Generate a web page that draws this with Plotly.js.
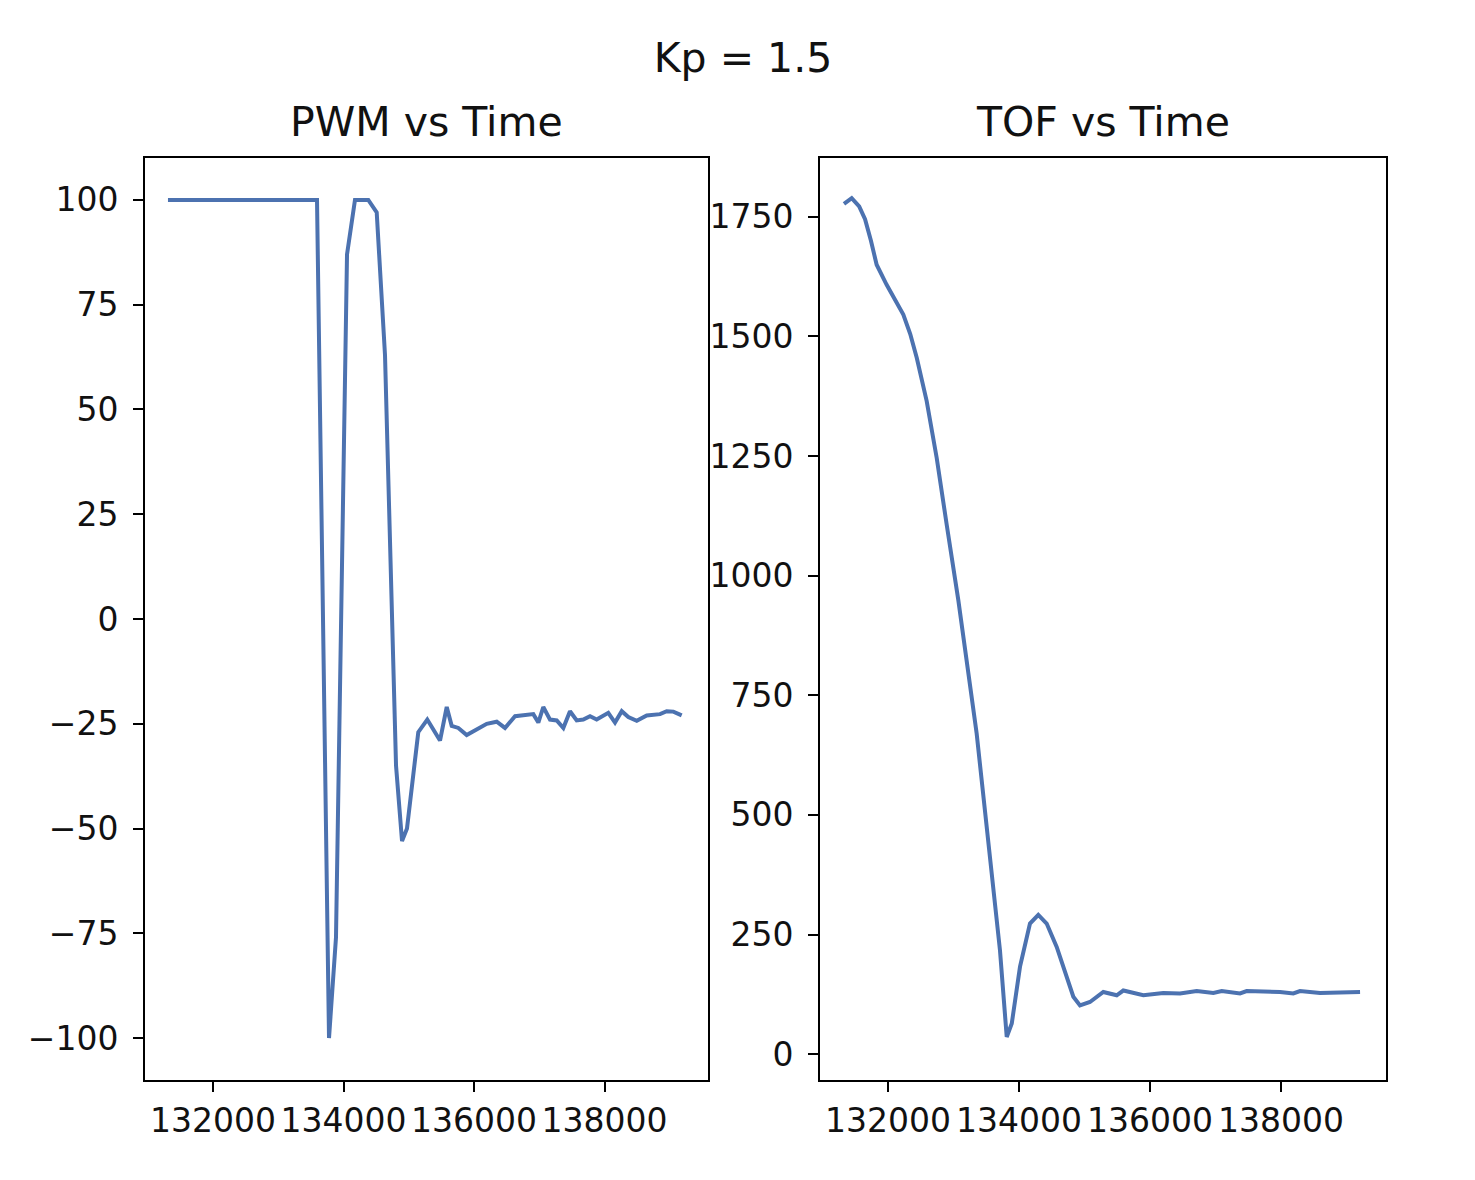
<!DOCTYPE html>
<html>
<head>
<meta charset="utf-8">
<script src="https://cdn.plot.ly/plotly-3.0.1.min.js"></script>
<style>
  html, body { margin: 0; padding: 0; background: #fff; }
  #kp-plot { width: 1475px; height: 1180px; }
</style>
</head>
<body>
<div id="kp-plot"></div>
<script>
// PWM command over time (ms)
const pwmTime = [
  131310, 133594, 133778, 133885, 134054, 134176, 134380, 134509, 134636, 134805,
  134897, 134973, 135146, 135284, 135479, 135582, 135658, 135760, 135888, 136041,
  136195, 136348, 136475, 136629, 136909, 136986, 137062, 137165, 137268, 137369,
  137471, 137574, 137675, 137778, 137880, 138058, 138161, 138264, 138365, 138494,
  138647, 138851, 138953, 139055, 139183
];
const pwmValues = [
  100, 100, -100, -76, 87, 100, 100, 97, 63, -35,
  -53, -50, -27, -24, -29, -21, -25.5, -26, -27.7, -26.3,
  -25, -24.5, -26, -23.2, -22.7, -24.7, -21, -24, -24.2, -26,
  -22, -24.2, -24, -23.2, -24, -22.4, -24.7, -22, -23.4, -24.3,
  -23, -22.7, -22, -22.1, -23
];

// TOF distance reading over time (mm)
const tofTime = [
  131328, 131446, 131560, 131650, 131740, 131827, 131980, 132110, 132234, 132340,
  132440, 132591, 132744, 132896, 133074, 133354, 133558, 133710, 133813, 133890,
  134016, 134168, 134295, 134423, 134576, 134830, 134932, 135084, 135288, 135492,
  135593, 135899, 136204, 136459, 136714, 136968, 137096, 137375, 137477, 137986,
  138189, 138291, 138597, 139208
];
const tofValues = [
  1777, 1789, 1772, 1745, 1700, 1650, 1608, 1578, 1546, 1505,
  1455, 1365, 1246, 1107, 949, 670, 420, 217, 36, 64,
  183, 273, 291, 273, 224, 120, 102, 109, 130, 123,
  133, 123, 128, 127, 132, 128, 132, 127, 132, 130,
  127, 132, 128, 130
];

// tick labels
const timeTicks = [132000, 134000, 136000, 138000];
const timeTickText = ["132000", "134000", "136000", "138000"];
const pwmTicks = [-100, -75, -50, -25, 0, 25, 50, 75, 100];
const pwmTickText = ["\u2212100", "\u221275", "\u221250", "\u221225", "0", "25", "50", "75", "100"];
const tofTicks = [0, 250, 500, 750, 1000, 1250, 1500, 1750];
const tofTickText = ["0", "250", "500", "750", "1000", "1250", "1500", "1750"];

const LINE_BLUE = "#4c72b0";
const FONT = "DejaVu Sans, sans-serif";
const TEXT = "#111";
const W = 1475, H = 1180;

function getElem(id) {
  return document.getElementById(id);
}

function axisStyle(extra) {
  const base = {
    showline: true,
    mirror: true,
    linecolor: "#000",
    linewidth: 2,
    ticks: "outside",
    ticklen: 10,
    tickwidth: 2,
    tickcolor: "#000",
    showgrid: false,
    zeroline: false,
    tickmode: "array",
    tickangle: 0,
    tickfont: { family: FONT, size: 33, color: TEXT }
  };
  return Object.assign(base, extra);
}

function drawPlot() {
  const plotDiv = getElem("kp-plot");
  if (!plotDiv) return;

  const traces = [
    {
      x: pwmTime,
      y: pwmValues,
      mode: "lines",
      line: { color: LINE_BLUE, width: 4 },
      showlegend: false,
      xaxis: "x",
      yaxis: "y"
    },
    {
      x: tofTime,
      y: tofValues,
      mode: "lines",
      line: { color: LINE_BLUE, width: 4 },
      showlegend: false,
      xaxis: "x2",
      yaxis: "y2"
    }
  ];

  // plot boxes measured in pixels, converted to paper fractions
  const yDom = [(H - 1080) / H, (H - 158) / H];

  const layout = {
    width: W,
    height: H,
    margin: { l: 0, r: 0, t: 0, b: 0 },
    paper_bgcolor: "#fff",
    plot_bgcolor: "#fff",
    title: {
      text: "Kp = 1.5",
      x: 743 / W,
      xanchor: "center",
      y: 1 - 58 / H,
      yanchor: "middle",
      font: { family: FONT, size: 41, color: TEXT }
    },
    xaxis: axisStyle({
      domain: [145 / W, 708 / W],
      range: [130958, 139586],
      tickvals: timeTicks,
      ticktext: timeTickText,
      anchor: "y"
    }),
    yaxis: axisStyle({
      domain: yDom,
      range: [-110, 110],
      tickvals: pwmTicks,
      ticktext: pwmTickText,
      ticklabelstandoff: 8,
      anchor: "x"
    }),
    xaxis2: axisStyle({
      domain: [820 / W, 1386 / W],
      range: [130962, 139604],
      tickvals: timeTicks,
      ticktext: timeTickText,
      anchor: "y2"
    }),
    yaxis2: axisStyle({
      domain: yDom,
      range: [-54, 1873],
      tickvals: tofTicks,
      ticktext: tofTickText,
      ticklabelstandoff: 8,
      anchor: "x2"
    }),
    annotations: [
      {
        text: "PWM vs Time",
        xref: "paper", yref: "paper",
        x: 426 / W, y: 1 - 122 / H,
        xanchor: "center", yanchor: "middle",
        showarrow: false,
        font: { family: FONT, size: 41, color: TEXT }
      },
      {
        text: "TOF vs Time",
        xref: "paper", yref: "paper",
        x: 1103 / W, y: 1 - 122 / H,
        xanchor: "center", yanchor: "middle",
        showarrow: false,
        font: { family: FONT, size: 41, color: TEXT }
      }
    ]
  };

  Plotly.newPlot("kp-plot", traces, layout, { displayModeBar: false, staticPlot: true });
}

document.addEventListener("DOMContentLoaded", drawPlot);
</script>
</body>
</html>
